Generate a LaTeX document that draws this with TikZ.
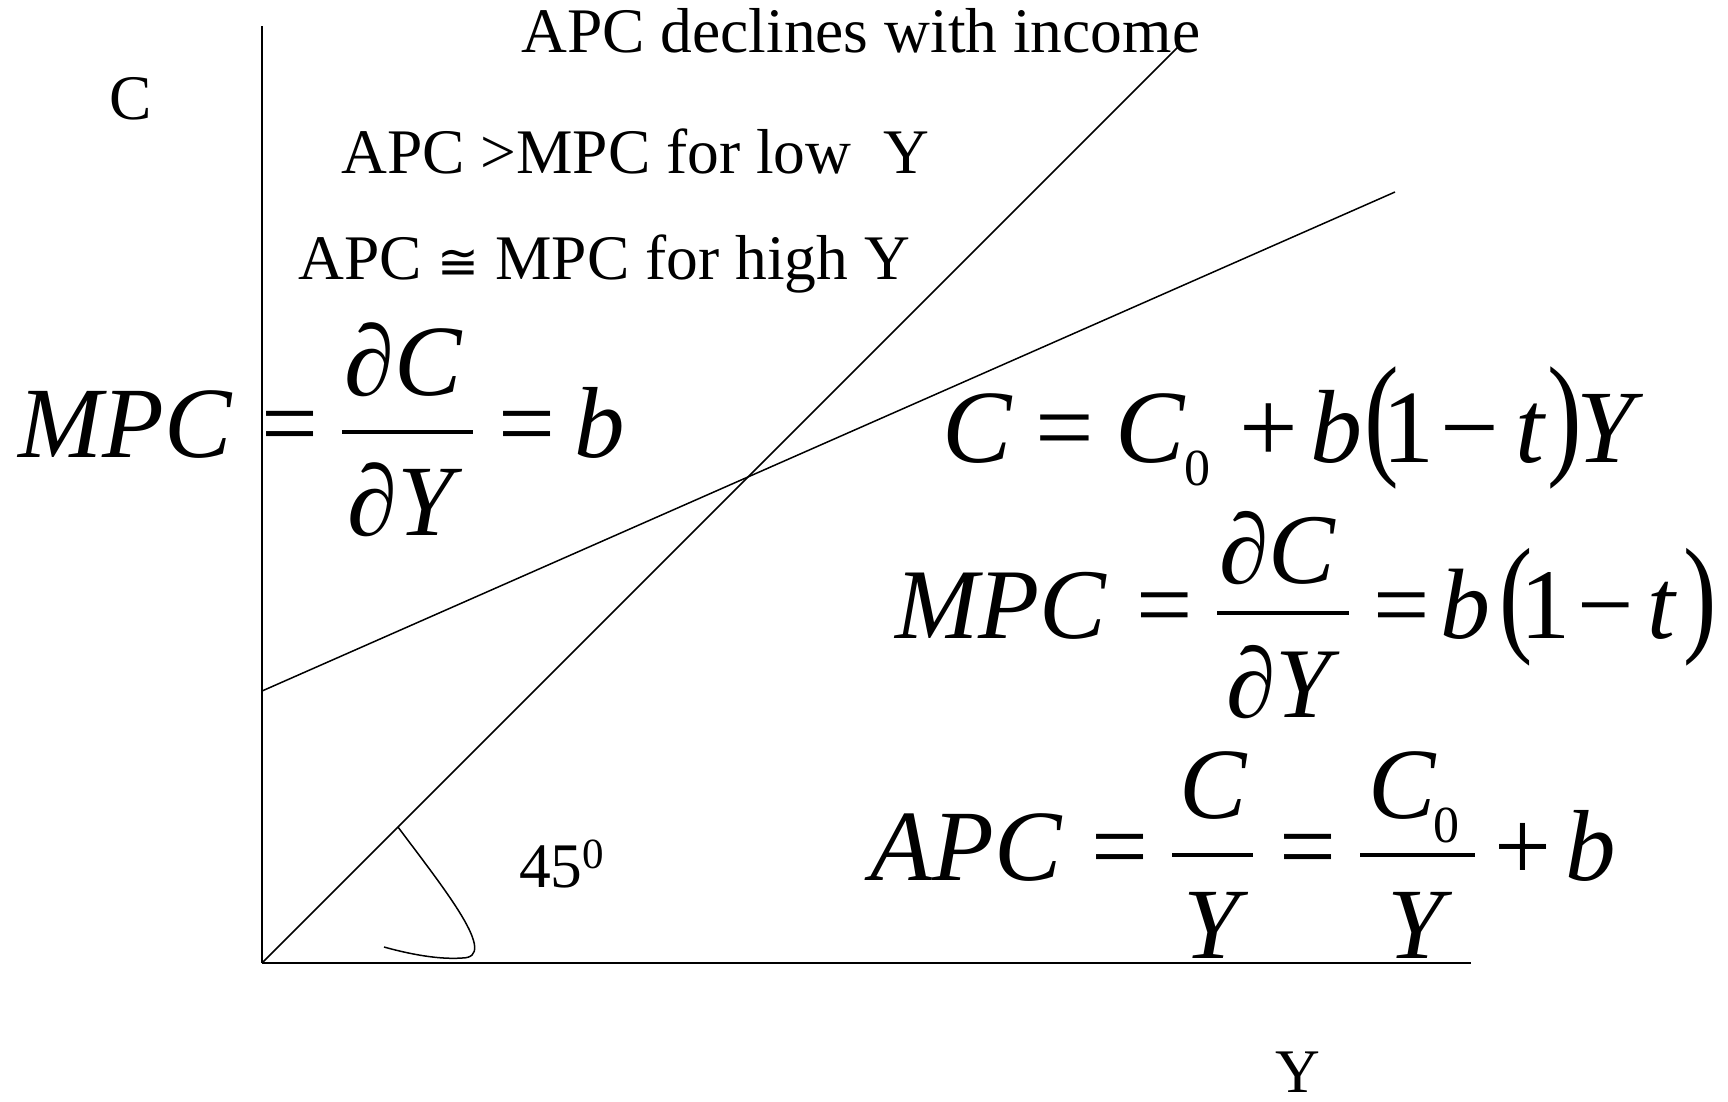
\documentclass[tikz,border=0pt]{standalone}
\usepackage{fontspec}
\usepackage{graphicx}
\setmainfont{Liberation Serif}
\newfontfamily\dvsans{DejaVu Sans}
\begin{document}
\begin{tikzpicture}[x=1pt,y=-1pt,
  lbl/.style={inner sep=0pt, anchor=base west, font=\fontsize{63.5}{64}\selectfont},
  m/.style={inner sep=0pt, anchor=base, font=\fontsize{#1}{#1}\selectfont},
  mi/.style={inner sep=0pt, anchor=base, font=\fontsize{#1}{#1}\selectfont\itshape},
  paren/.style={inner sep=0pt, anchor=center, font=\fontsize{#1}{#1}\selectfont},
  fbar/.style={line width=3.5pt},
  ln/.style={line width=1.5pt},
  xax/.style={line width=2.5pt}
]
\useasboundingbox (0,0) rectangle (1728,1101);
\fill[white] (0,0) rectangle (1728,1101);

% axes and lines
\coordinate (O) at (262,963);
\coordinate (Ytop) at (262,26);
\coordinate (Xend) at (1471,963);
\coordinate (L45) at (1179,46);
\coordinate (Cint) at (262,691);
\coordinate (Cend) at (1395,192);
\coordinate (A1) at (398,827);
\coordinate (A2) at (462,958);
\coordinate (A3) at (384,947);
\draw[ln] (Ytop) -- (O);
\draw[xax] (O) -- (Xend);
\draw[ln] (O) -- (L45);
\draw[ln] (Cint) -- (Cend);
\draw[ln] (A1) .. controls (445,890) and (500,958) .. (A2) .. controls (435,960) and (402,952) .. (A3);

% texts
\node[lbl] (t1) at (521,52) {APC declines with income};
\node[lbl] (t2) at (341,173) {APC >MPC for low\ \ Y};
\node[lbl] (t3) at (298,279) {APC {\dvsans\fontsize{50}{50}\selectfont ≅} MPC for high Y};
\node[m=63.5] (cl) at (131,119) {C};
\node[m=62] (yl) at (1298,1092) {Y};
\node[lbl] (ang) at (519,887) {45\raisebox{19pt}{\fontsize{43}{43}\selectfont 0}};

% equation 1
\node[mi=101] (e1l) at (125,457) {MPC};
\node[m=101] (e1q) at (290,457) {=};
\node[m=101] (e1n) at (404,395) {∂\textit{C}};
\node[m=101] (e1d) at (405,535) {∂\textit{Y}};
\coordinate (e1b1) at (342,432);
\coordinate (e1b2) at (473,432);
\draw[fbar] (e1b1) -- (e1b2);
\node[m=101] (e1q2) at (527,457) {=};
\node[mi=101] (e1b) at (600,457) {b};

% equation 2
\node[mi=104] (e2c) at (977,462) {C};
\node[m=104] (e2q) at (1065,462) {=};
\node[mi=104] (e2c0) at (1150,462) {C};
\node[m=52] (e2s) at (1197,485) {0};
\node[m=104] (e2p) at (1269,462) {+};
\node[mi=104] (e2b) at (1336,462) {b};
\node[paren=104] (e2l) at (1382,428) {\scalebox{1}[1.3]{(}};
\node[m=104] (e2one) at (1408,462) {1};
\node[m=104] (e2m) at (1470,462) {−};
\node[mi=104] (e2t) at (1530,462) {t};
\node[paren=104] (e2r) at (1565,428) {\scalebox{1}[1.3]{)}};
\node[mi=104] (e2y) at (1605,462) {Y};

% equation 3
\node[mi=100] (e3l) at (1001,638) {MPC};
\node[m=100] (e3q) at (1165,638) {=};
\coordinate (e3b1) at (1217,613);
\coordinate (e3b2) at (1349,613);
\draw[fbar] (e3b1) -- (e3b2);
\node[m=100] (e3n) at (1278,583) {∂\textit{C}};
\node[m=100] (e3d) at (1283,717) {∂\textit{Y}};
\node[m=100] (e3q2) at (1402,638) {=};
\node[mi=100] (e3b) at (1465,638) {b};
\node[paren=100] (e3pl) at (1516,607) {\scalebox{1}[1.3]{(}};
\node[m=100] (e3one) at (1545,638) {1};
\node[m=100] (e3m) at (1606,638) {−};
\node[mi=100] (e3t) at (1661,638) {t};
\node[paren=100] (e3pr) at (1700,607) {\scalebox{1}[1.3]{)}};

% equation 4
\node[mi=101] (e4l) at (966,880) {APC};
\node[m=101] (e4q) at (1120,880) {=};
\coordinate (e4a1) at (1172,855);
\coordinate (e4a2) at (1253,855);
\draw[fbar] (e4a1) -- (e4a2);
\node[mi=101] (e4n1) at (1213,818) {C};
\node[mi=101] (e4d1) at (1212,958) {Y};
\node[m=101] (e4q2) at (1308,880) {=};
\coordinate (e4c1) at (1360,855);
\coordinate (e4c2) at (1475,855);
\draw[fbar] (e4c1) -- (e4c2);
\node[mi=101] (e4n2) at (1402,818) {C};
\node[m=52] (e4s) at (1446,842) {0};
\node[mi=101] (e4d2) at (1416,958) {Y};
\node[m=101] (e4p) at (1523,880) {+};
\node[mi=101] (e4b) at (1591,880) {b};
\end{tikzpicture}
\end{document}
